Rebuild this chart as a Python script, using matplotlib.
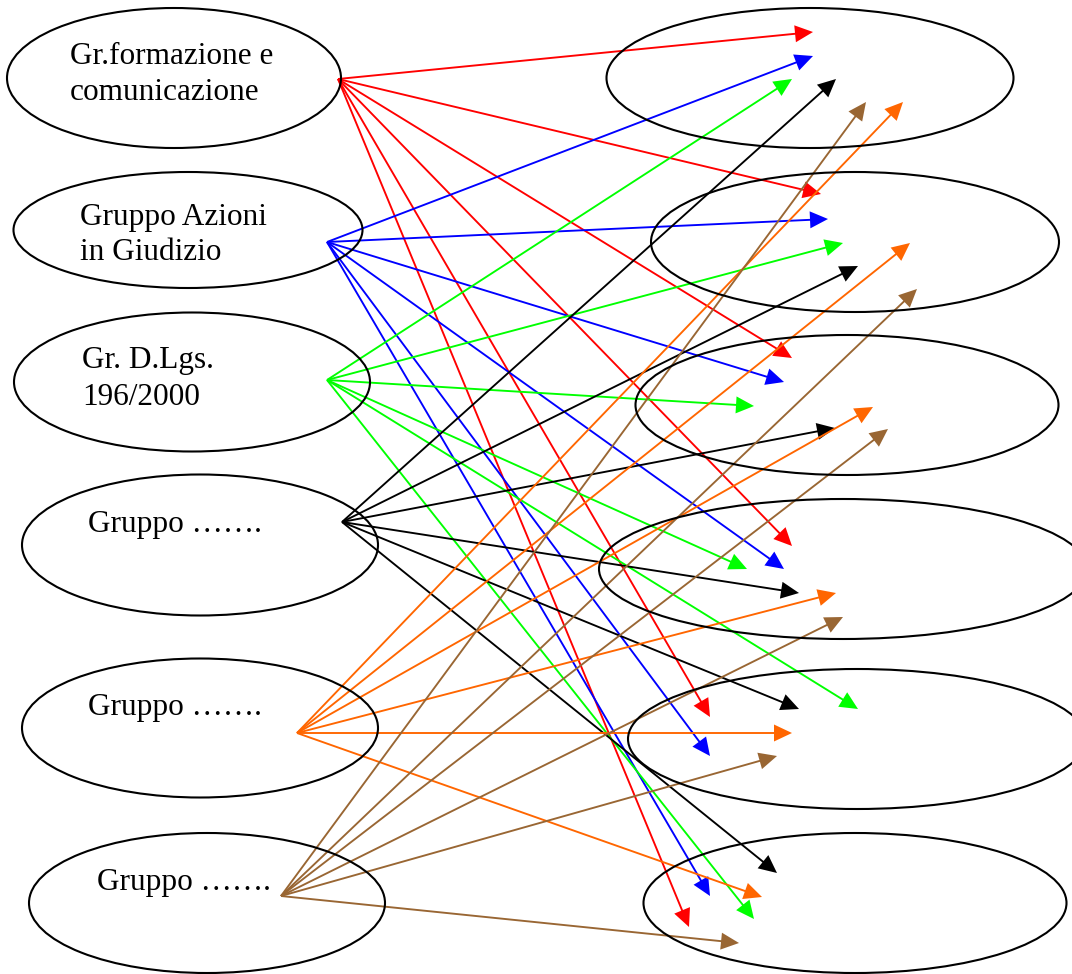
import matplotlib
matplotlib.use('Agg')
import matplotlib.pyplot as plt
from matplotlib.patches import Ellipse

# Ellissi di sinistra (gruppi) e di destra (destinazioni), coordinate in pixel
left_centers = [(174, 78), (188, 230), (192, 382), (200, 545), (200, 728), (207, 903)]
left_sizes = [(334, 140), (349, 116), (356, 139), (356, 141), (356, 139), (356, 140)]
right_centers = [(810, 78), (855, 242), (847, 405), (843, 569), (857, 739), (855, 903)]
right_sizes = [(407, 140), (408, 140), (423, 140), (488, 140), (458, 140), (423, 140)]

# Etichette dei gruppi: (x, y baseline, testo)
labels = [
    (70, 64, 'Gr.formazione e'), (70, 100, 'comunicazione'),
    (80, 225, 'Gruppo Azioni'), (80, 260, 'in Giudizio'),
    (82, 368, 'Gr. D.Lgs.'), (82, 405, '196/2000'),
    (88, 532, 'Gruppo …….'),
    (88, 715, 'Gruppo …….'),
    (97, 890, 'Gruppo …….'),
]

# Frecce: punto di partenza e punte, un colore per gruppo
colors = ['#FF0000', '#0000FF', '#00FF00', '#000000', '#FF6600', '#996633']
sources = [(338, 79), (327, 242), (327, 380), (342, 522), (297, 733), (281, 896)]
red_tips = [(813, 32), (821, 194), (792, 358), (792, 546), (710, 717), (689, 927)]
blue_tips = [(813, 56), (828, 219), (784, 382), (784, 569), (710, 756), (710, 896)]
green_tips = [(792, 79), (843, 243), (754, 406), (747, 569), (858, 709), (754, 919)]
black_tips = [(836, 79), (858, 266), (835, 428), (799, 593), (799, 709), (777, 873)]
orange_tips = [(903, 102), (910, 243), (873, 407), (836, 593), (792, 733), (762, 897)]
brown_tips = [(866, 102), (917, 289), (888, 429), (843, 617), (777, 756), (739, 943)]
all_tips = [red_tips, blue_tips, green_tips, black_tips, orange_tips, brown_tips]

fig = plt.figure(figsize=(10.72, 9.74), dpi=100)
ax = fig.add_axes([0, 0, 1, 1])
ax.set_xlim(0, 1072)
ax.set_ylim(974, 0)
ax.axis('off')

for (cx, cy), (w, h) in zip(left_centers + right_centers, left_sizes + right_sizes):
    ax.add_patch(Ellipse((cx, cy), w, h, fill=False, edgecolor='black', lw=1.5, zorder=3))

for x, y, t in labels:
    ax.text(x, y, t, fontsize=22.5, family='Liberation Serif', va='baseline', ha='left')

for col, (sx, sy), tips in zip(colors, sources, all_tips):
    for tx, ty in tips:
        ax.arrow(sx, sy, tx - sx, ty - sy, width=1.9, head_width=17, head_length=18,
                 length_includes_head=True, color=col, lw=0, zorder=2)

fig.savefig('out.png', dpi=100)
